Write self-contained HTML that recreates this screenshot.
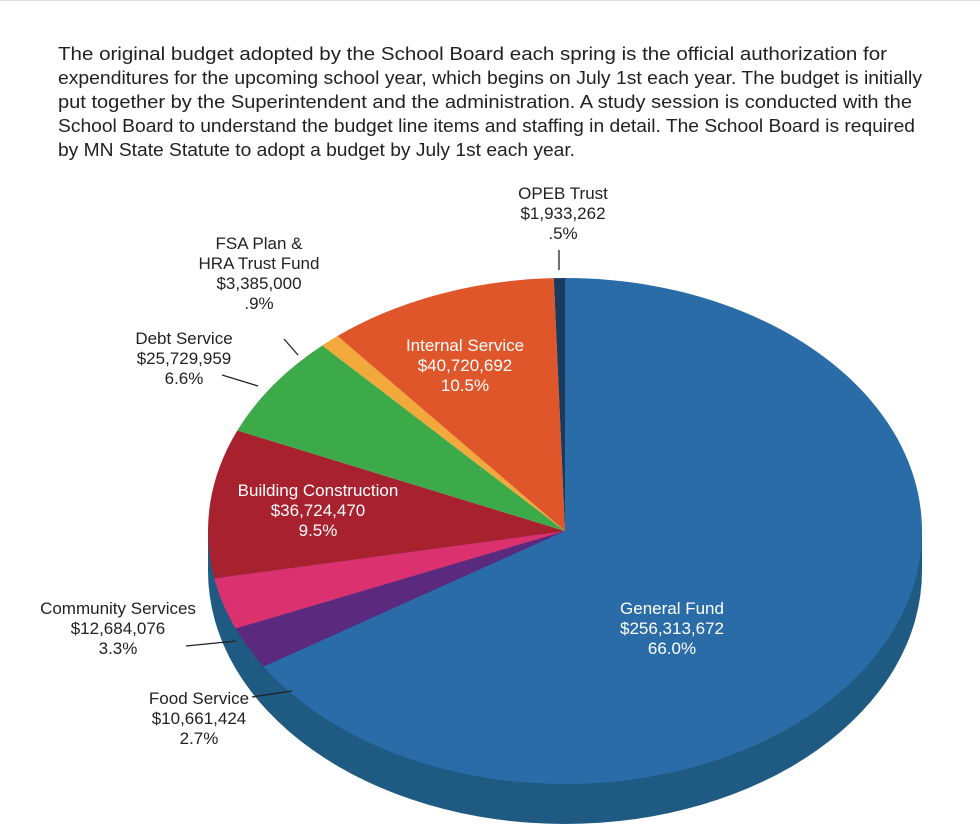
<!DOCTYPE html>
<html><head><meta charset="utf-8"><style>
body{margin:0;background:#fff;}
svg{display:block;font-family:"Liberation Sans",Arial,sans-serif;}
</style></head><body>
<svg width="980" height="832" viewBox="0 0 980 832">
<line x1="0" y1="0.5" x2="980" y2="0.5" stroke="#ddd"/>
<g font-size="18.5" fill="#222">
<text x="58" y="60" textLength="829" lengthAdjust="spacingAndGlyphs">The original budget adopted by the School Board each spring is the official authorization for</text>
<text x="58" y="84" textLength="864" lengthAdjust="spacingAndGlyphs">expenditures for the upcoming school year, which begins on July 1st each year. The budget is initially</text>
<text x="58" y="108" textLength="854" lengthAdjust="spacingAndGlyphs">put together by the Superintendent and the administration. A study session is conducted with the</text>
<text x="58" y="132" textLength="857" lengthAdjust="spacingAndGlyphs">School Board to understand the budget line items and staffing in detail. The School Board is required</text>
<text x="58" y="156" textLength="517" lengthAdjust="spacingAndGlyphs">by MN State Statute to adopt a budget by July 1st each year.</text>
</g>
<g id="pie"></g>
<g id="labels" font-size="17" fill="#222" text-anchor="middle"></g>
</svg>
<script>
const names=["General Fund","Food Service","Community Services","Building Construction","Debt Service","FSA Plan & HRA Trust Fund","Internal Service","OPEB Trust"];
const amounts=["$256,313,672","$10,661,424","$12,684,076","$36,724,470","$25,729,959","$3,385,000","$40,720,692","$1,933,262"];
const percents=[66.0,2.7,3.3,9.5,6.6,0.9,10.5,0.5];
const pctLabels=["66.0%","2.7%","3.3%","9.5%","6.6%",".9%","10.5%",".5%"];
const colors=["#2a6ca8","#5b2a7e","#dc316f","#a8212e","#3daa4a","#f2a93b","#e0562b","#1b3a5c"];
const cx=565,cy=531,rx=357,ry=253,depth=40;
const NS="http://www.w3.org/2000/svg";
const pie=document.getElementById('pie');
const total=percents.reduce((a,b)=>a+b,0);
function pt(t,dy){return [cx+rx*Math.sin(t),cy-ry*Math.cos(t)+(dy||0)];}
const side=document.createElementNS(NS,'path');
side.setAttribute('d',`M${cx-rx},${cy} L${cx-rx},${cy+depth} A${rx},${ry} 0 0 0 ${cx+rx},${cy+depth} L${cx+rx},${cy} Z`);
side.setAttribute('fill','#1f5a83');


pie.appendChild(side);
let acc=0;
percents.forEach((p,i)=>{
  const a0=acc/total*2*Math.PI;acc+=p;const a1=acc/total*2*Math.PI;
  const [x0,y0]=pt(a0),[x1,y1]=pt(a1);
  const large=(a1-a0)>Math.PI?1:0;
  const path=document.createElementNS(NS,'path');
  path.setAttribute('d',`M${cx},${cy} L${x0},${y0} A${rx},${ry} 0 ${large} 1 ${x1},${y1} Z`);
  path.setAttribute('fill',colors[i]);
  
  
  pie.appendChild(path);
});
const lab=[
 [672,614,"#fff",null],
 [199,704,"#222",[252,697,292,691]],
 [118,614,"#222",[186,646,236,641]],
 [318,496,"#fff",null],
 [184,344,"#222",[222,375,258,386]],
 [259,249,"#222",[284,339,298,355]],
 [465,351,"#fff",null],
 [563,199,"#222",[559,250,559,270]]
];
const splitName=["General Fund","Food Service","Community Services","Building Construction","Debt Service",["FSA Plan &","HRA Trust Fund"],"Internal Service","OPEB Trust"];
const lg=document.getElementById('labels');
lab.forEach((l,i)=>{
  const g=document.createElementNS(NS,'g');
  
  
  const lines=[].concat(splitName[i],[amounts[i],pctLabels[i]]);
  lines.forEach((s,k)=>{
    const t=document.createElementNS(NS,'text');
    t.setAttribute('x',l[0]);t.setAttribute('y',l[1]+k*20);
    t.setAttribute('fill',l[2]);t.textContent=s;g.appendChild(t);
  });
  if(l[3]){const ln=document.createElementNS(NS,'line');
    ln.setAttribute('x1',l[3][0]);ln.setAttribute('y1',l[3][1]);ln.setAttribute('x2',l[3][2]);ln.setAttribute('y2',l[3][3]);
    ln.setAttribute('stroke','#222');ln.setAttribute('stroke-width','1.3');g.appendChild(ln);}
  lg.appendChild(g);
});
</script>
</body></html>
